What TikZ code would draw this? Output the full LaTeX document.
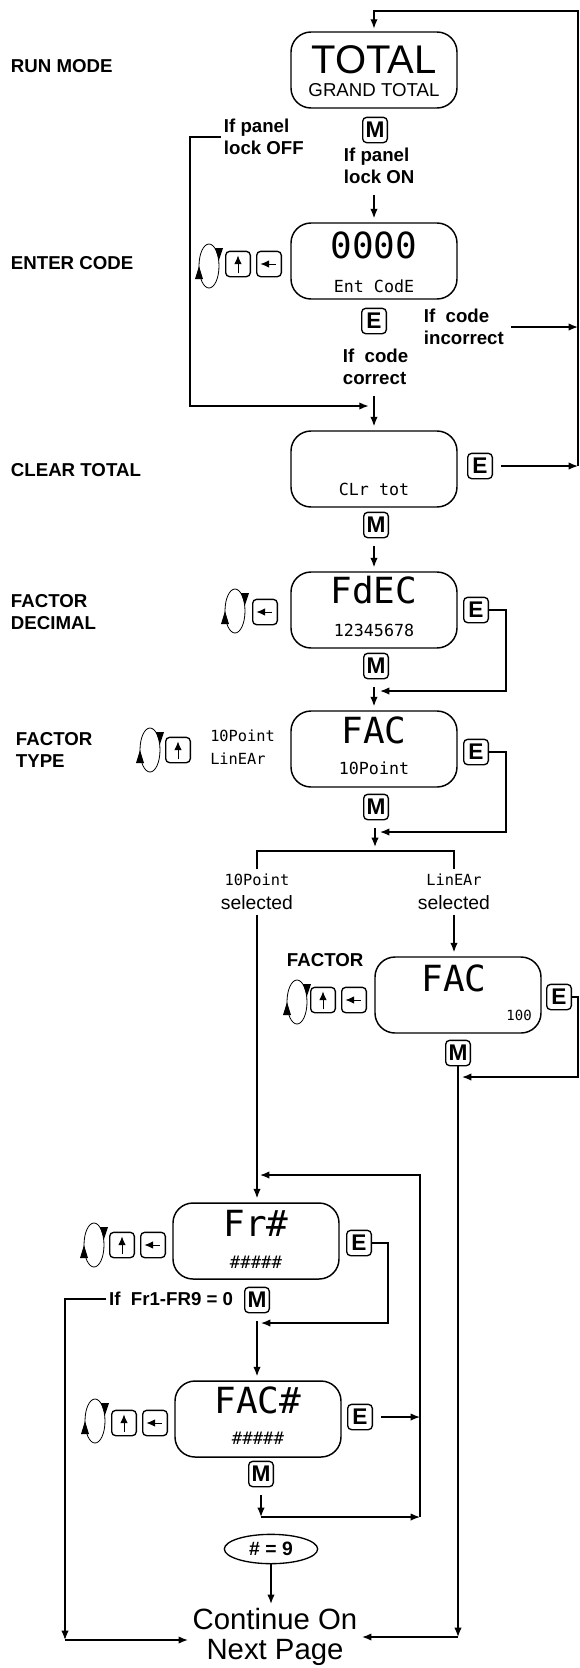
\documentclass[tikz,border=0pt]{standalone}
\usepackage{fontspec}
\setmainfont{Liberation Sans}
\newfontfamily\lcdfont{DejaVu Sans Mono}
\usetikzlibrary{arrows.meta,positioning,calc,shapes.geometric}

\tikzset{
  spin/.pic={
    \draw[line width=0.6pt] (0,0) ellipse [x radius=7.5pt, y radius=16.5pt];
    \fill (-14,13) -- (-6,13) -- (-10,0) -- cycle;
    \fill (6,-18) -- (14,-18) -- (10,-6) -- cycle;
  }
}

\begin{document}
\begin{tikzpicture}[x=0.75pt, y=-0.75pt,
  lcd/.style={draw, line width=1.1pt, rounded corners=15pt, minimum width=124.5pt, minimum height=57pt},
  key/.style={draw, line width=1pt, rounded corners=3pt, minimum width=18.5pt, minimum height=19pt, inner sep=0pt, font=\bfseries\fontsize{17}{17}\selectfont},
  upkey/.style={key, path picture={\draw[line width=0.7pt, -{Latex[length=6.5pt, width=5.5pt]}] ([yshift=-7pt]path picture bounding box.center) -- ([yshift=6.5pt]path picture bounding box.center);}},
  leftkey/.style={key, path picture={\draw[line width=0.7pt, -{Latex[length=6.5pt, width=5.5pt]}] ([xshift=5pt]path picture bounding box.center) -- ([xshift=-6.5pt]path picture bounding box.center);}},
  lbl/.style={font=\bfseries\fontsize{14}{16.5}\selectfont, align=left, inner sep=2pt},
  seg/.style={font=\lcdfont\fontsize{27}{27}\selectfont, inner sep=0pt},
  segs/.style={font=\lcdfont\fontsize{12.5}{12.5}\selectfont, inner sep=0pt},
  wire/.style={line width=1pt},
  arr/.style={wire, -{Latex[length=7pt, width=5.5pt]}},
  flow/.style={arr, shorten <=6pt, shorten >=3pt}]
\useasboundingbox (0,0) rectangle (579,1668);
\coordinate (loop1) at (578,11);
\node[lbl, anchor=west] (runlbl) at (8,66) {RUN MODE};
\node[lcd] (total) at (374,70) {};
\node[font=\fontsize{30}{30}\selectfont, inner sep=0pt] (totaltop) at (374,60) {TOTAL};
\node[font=\fontsize{14}{14}\selectfont, inner sep=0pt] (totalsub) at (374,90) {GRAND TOTAL};
\node[key] (menu1) at (375,130) {M};
\node[lbl, anchor=west] (offlbl) at (221,137) {If panel\\lock OFF};
\node[lbl, anchor=west] (onlbl) at (341,166) {If panel\\lock ON};
\node[lbl, anchor=west] (codelbl) at (8,263) {ENTER CODE};
\node[lcd] (code) at (374,261) {};
\node[seg] (codetop) at (374,245) {0000};
\node[segs] (codesub) at (374,286) {Ent CodE};
\pic (spin1) at (209,266) {spin};
\node[upkey] (up1) at (238,264) {};
\node[leftkey] (left1) at (269,264) {};
\node[key] (enter1) at (374,321) {E};
\node[lbl, anchor=west] (badlbl) at (421,327) {If~ code\\incorrect};
\node[lbl, anchor=west] (oklbl) at (340,367) {If~ code\\correct};
\coordinate (bypass) at (190,406);
\node[lbl, anchor=west] (clrlbl) at (8,470) {CLEAR TOTAL};
\node[lcd] (clr) at (374,469) {};
\node[segs] (clrsub) at (374,489) {CLr tot};
\node[key] (enter2) at (480,466) {E};
\node[key] (menu2) at (376,525) {M};
\node[lbl, anchor=west] (declbl) at (8,612) {FACTOR\\DECIMAL};
\node[lcd] (fdec) at (374,610) {};
\node[seg] (fdectop) at (374,590) {FdEC};
\node[segs] (fdecsub) at (374,630) {12345678};
\pic (spin2) at (235,611) {spin};
\node[leftkey] (left2) at (265,612) {};
\node[key] (enter3) at (476,610) {E};
\node[key] (menu3) at (376,666) {M};
\coordinate (loop3) at (506,691);
\node[lbl, anchor=west] (typelbl) at (13,750) {FACTOR\\TYPE};
\node[lcd] (fac) at (374,749) {};
\node[seg] (factop) at (374,730) {FAC};
\node[segs] (facsub) at (374,768) {10Point};
\pic (spin3) at (150,750) {spin};
\node[upkey] (up3) at (178,750) {};
\node[font=\lcdfont\fontsize{11.5}{17}\selectfont, align=left, anchor=west, inner sep=0pt] (choices) at (210,747) {10Point\\LinEAr};
\node[key] (enter4) at (476,752) {E};
\node[key] (menu4) at (376,807) {M};
\coordinate (loop4) at (506,832);
\coordinate (split) at (375,851);
\node[align=center, font=\fontsize{14.5}{18}\selectfont] (ptsel) at (257,892) {{\lcdfont\fontsize{11.5}{11.5}\selectfont 10Point}\\selected};
\node[align=center, font=\fontsize{14.5}{18}\selectfont] (linsel) at (454,892) {{\lcdfont\fontsize{11.5}{11.5}\selectfont LinEAr}\\selected};
\node[lbl, anchor=west] (factlbl) at (284,960) {FACTOR};
\node[lcd] (fac2) at (458,995) {};
\node[seg] (fac2top) at (454,978) {FAC};
\node[font=\lcdfont\fontsize{10.5}{10.5}\selectfont, anchor=east, inner sep=0pt] (fac2sub) at (532,1015) {100};
\pic (spin4) at (297,1002) {spin};
\node[upkey] (up4) at (323,1000) {};
\node[leftkey] (left4) at (354,1000) {};
\node[key] (enter5) at (559,997) {E};
\node[key] (menu5) at (458,1053) {M};
\coordinate (loop5) at (578,1077);
\coordinate (loop7) at (420,1175);
\node[lcd] (frnum) at (256,1241) {};
\node[seg] (frnumtop) at (256,1223) {Fr\#};
\node[font=\lcdfont\fontsize{13}{13}\selectfont, inner sep=0pt] (frnumsub) at (256,1262) {\#\#\#\#\#};
\pic (spin5) at (94,1245) {spin};
\node[upkey] (up5) at (122,1245) {};
\node[leftkey] (left5) at (153,1245) {};
\node[key] (enter6) at (359,1243) {E};
\coordinate (loop6) at (388,1323);
\node[key] (menu6) at (257,1300) {M};
\node[lbl, anchor=east] (frzero) at (236,1299) {If~ Fr1-FR9 = 0};
\node[lcd] (facnum) at (258,1419) {};
\node[seg] (facnumtop) at (258,1400) {FAC\#};
\node[font=\lcdfont\fontsize{13}{13}\selectfont, inner sep=0pt] (facnumsub) at (258,1438) {\#\#\#\#\#};
\pic (spin6) at (95,1421) {spin};
\node[upkey] (up6) at (124,1423) {};
\node[leftkey] (left6) at (155,1423) {};
\node[key] (enter7) at (360,1417) {E};
\node[key] (menu7) at (261,1474) {M};
\coordinate (loop7b) at (420,1517);
\node[ellipse, draw, line width=1pt, minimum width=70pt, minimum height=22pt, inner sep=0pt, font=\bfseries\fontsize{14.5}{14.5}\selectfont] (count) at (271,1549) {\# = 9};
\node[align=center, font=\fontsize{22}{22}\selectfont] (nextpg) at (275,1637) {Continue On\\Next Page};
\coordinate (corner6) at (65,1640);
\draw[arr, shorten >=2pt] (enter2.east -| loop1) -- (loop1) -| (total.north);
\draw[arr, shorten <=6pt] (enter2.east) -- (enter2.east -| loop1);
\draw[arr, shorten <=3pt] (badlbl.east) -- (badlbl.east -| loop1);
\draw[flow] (onlbl.south -| code.north) -- (code.north);
\draw[arr, shorten >=4pt] (offlbl.west) -| (bypass) -- (bypass -| clr.north);
\draw[flow] (oklbl.south -| clr.north) -- (clr.north);
\draw[flow] (menu2.south -| fdec.north) -- (fdec.north);
\draw[arr, shorten >=3pt] (enter3.east) -| (loop3) -- (loop3 -| menu3);
\draw[flow] (menu3.south -| fac.north) -- (fac.north);
\draw[arr, shorten >=3pt] (enter4.east) -| (loop4) -- (loop4 -| menu4);
\draw[flow] (menu4.south -| split) -- (split);
\draw[wire] (ptsel.north) -- (ptsel.north |- split) -- (linsel.north |- split) -- (linsel.north);
\draw[arr, shorten >=3pt] (ptsel.south) -- (ptsel.south |- frnum.north);
\draw[arr, shorten >=3pt] (linsel.south) -- (linsel.south |- fac2.north);
\draw[arr, shorten >=3pt] (enter5.east) -| (loop5) -- (loop5 -| menu5);
\draw[arr] (menu5.south) -- (menu5.south |- nextpg.east);
\draw[arr] (menu5.south |- nextpg.east) -- (nextpg.east);
\draw[arr, shorten >=3pt] (loop7b) -- (loop7) -- (loop7 -| frnum);
\draw[arr, shorten >=3pt] (enter6.east) -| (loop6) -- (loop6 -| menu6);
\draw[flow] (menu6.south) -- (menu6.south |- facnum.north);
\draw[arr] (frzero.west) -| (corner6);
\draw[arr] (corner6) -- (corner6 -| nextpg.west);
\draw[arr, shorten <=6pt] (enter7.east) -- (enter7.east -| loop7);
\draw[arr, shorten <=6pt] (menu7.south) -- (menu7.south |- loop7b);
\draw[arr] (menu7.south |- loop7b) -- (loop7b);
\draw[arr] (count.south) -- (count.south |- nextpg.north);
\end{tikzpicture}
\end{document}
